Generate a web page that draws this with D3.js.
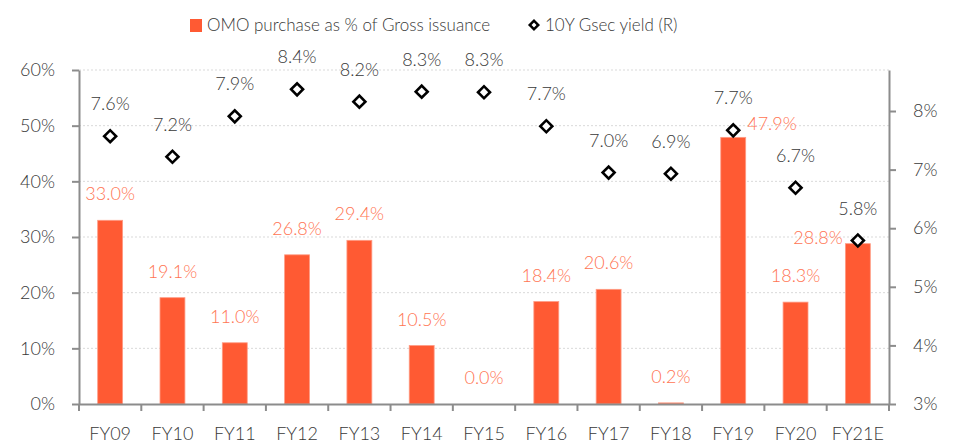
<!DOCTYPE html>
<meta charset="utf-8">
<style>
body { margin: 0; background: #fff; }
text { font-family: Lato, "Open Sans", sans-serif; font-weight: 300; }
.axis path, .axis line { stroke: #8c8c8c; stroke-width: 2px; }
.axis text { fill: #383838; font-size: 18px; }
.grid line { stroke: #d9d9d9; stroke-width: 1px; stroke-dasharray: 2,2; }
</style>
<body>
<script src="https://d3js.org/d3.v7.min.js"></script>
<script>

var width = 955,
    height = 448;

var categories = ["FY09","FY10","FY11","FY12","FY13","FY14","FY15","FY16","FY17","FY18","FY19","FY20","FY21E"];
var omoShare = [33.0, 19.1, 11.0, 26.8, 29.4, 10.5, 0.0, 18.4, 20.6, 0.2, 47.9, 18.3, 28.8];
var gsecYield = [7.57, 7.22, 7.91, 8.37, 8.16, 8.33, 8.32, 7.74, 6.95, 6.93, 7.67, 6.69, 5.79];
var yieldLabels = ["7.6%","7.2%","7.9%","8.4%","8.2%","8.3%","8.3%","7.7%","7.0%","6.9%","7.7%","6.7%","5.8%"];
var leftTicks = [0, 10, 20, 30, 40, 50, 60];
var rightTicks = [3, 4, 5, 6, 7, 8];

var margin = {top: 70, right: 66, bottom: 44, left: 79};

var svg = d3.select("body").append("svg")
    .attr("width", width)
    .attr("height", height);

var x = d3.scaleBand()
    .domain(categories)
    .range([margin.left, width - margin.right])
    .paddingInner(0.6)
    .paddingOuter(0.3);

var yL = d3.scaleLinear().domain([0, 60]).range([height - margin.bottom, margin.top]);
var yR = d3.scaleLinear().domain([3, 8.7]).range([height - margin.bottom, margin.top]);

// gridlines
svg.append("g").attr("class", "grid")
  .selectAll("line")
  .data(leftTicks.slice(1))
  .enter().append("line")
  .attr("x1", margin.left)
  .attr("x2", width - margin.right)
  .attr("y1", function(d){ return yL(d); })
  .attr("y2", function(d){ return yL(d); });

// bars
svg.selectAll(".bar")
  .data(omoShare)
  .enter().append("rect")
  .attr("class", "bar")
  .attr("x", function(d, i){ return x(categories[i]); })
  .attr("width", x.bandwidth())
  .attr("y", function(d){ return yL(d); })
  .attr("height", function(d){ return yL(0) - yL(d); })
  .attr("fill", "#ff5a33")
  .attr("stroke", "#ff9b84")
  .attr("stroke-width", 0.8);

// bar labels
svg.selectAll(".barlabel")
  .data(omoShare)
  .enter().append("text")
  .attr("class", "barlabel")
  .attr("x", function(d, i){
    var c = x(categories[i]) + x.bandwidth() / 2;
    if (categories[i] == "FY19") return c + 14;
    if (categories[i] == "FY21E") return c - 15;
    return c;
  })
  .attr("y", function(d, i){
    if (categories[i] == "FY19") return yL(d) - 7;
    if (categories[i] == "FY21E") return yL(d) + 0;
    return yL(d) - 20;
  })
  .attr("text-anchor", function(d, i){
    if (categories[i] == "FY19") return "start";
    if (categories[i] == "FY21E") return "end";
    return "middle";
  })
  .attr("fill", "#ff7452")
  .style("font-size", "18px")
  .text(function(d){ return d.toFixed(1) + "%"; });

// left axis
svg.append("g").attr("class", "axis")
  .attr("transform", "translate(" + margin.left + ",0)")
  .call(d3.axisLeft(yL).tickValues(leftTicks).tickSize(7).tickSizeOuter(0).tickPadding(17)
    .tickFormat(function(d){ return d + "%"; }));

// right axis
svg.append("g").attr("class", "axis")
  .attr("transform", "translate(" + (width - margin.right) + ",0)")
  .call(d3.axisRight(yR).tickValues(rightTicks).tickSize(7).tickSizeOuter(0).tickPadding(17)
    .tickFormat(function(d){ return d + "%"; }));

// bottom axis: labels centered, ticks at boundaries
var bottom = svg.append("g").attr("class", "axis")
  .attr("transform", "translate(0," + yL(0) + ")");
bottom.call(d3.axisBottom(x).tickSize(0).tickSizeOuter(0).tickPadding(27));
bottom.selectAll(".tick text").attr("dy", "0.5em");
bottom.selectAll(".bound")
  .data(d3.range(categories.length + 1))
  .enter().append("line")
  .attr("class", "bound")
  .attr("x1", function(i){ return margin.left + i * x.step(); })
  .attr("x2", function(i){ return margin.left + i * x.step(); })
  .attr("y1", 0)
  .attr("y2", 7);

// yield markers
var diamond = d3.symbol().type(d3.symbolSquare).size(72);
svg.selectAll(".marker")
  .data(gsecYield)
  .enter().append("path")
  .attr("class", "marker")
  .attr("d", diamond)
  .attr("transform", function(d, i){
    return "translate(" + (x(categories[i]) + x.bandwidth() / 2) + "," + yR(d) + ") rotate(45)";
  })
  .attr("fill", "#fff")
  .attr("stroke", "#000")
  .attr("stroke-width", 2.6);

svg.selectAll(".ylabel")
  .data(gsecYield)
  .enter().append("text")
  .attr("class", "ylabel")
  .attr("x", function(d, i){ return x(categories[i]) + x.bandwidth() / 2; })
  .attr("y", function(d){ return yR(d) - 26; })
  .attr("text-anchor", "middle")
  .attr("fill", "#383838")
  .style("font-size", "18px")
  .text(function(d, i){ return yieldLabels[i]; });

// legend
var legend = svg.append("g");
legend.append("rect")
  .attr("x", 190).attr("y", 19).attr("width", 12).attr("height", 13)
  .attr("fill", "#ff5a33");
legend.append("text")
  .attr("x", 207).attr("y", 31)
  .attr("fill", "#383838").style("font-size", "17px")
  .text("OMO purchase as % of Gross issuance");
legend.append("path")
  .attr("d", d3.symbol().type(d3.symbolSquare).size(36))
  .attr("transform", "translate(534,25) rotate(45)")
  .attr("fill", "#fff").attr("stroke", "#000").attr("stroke-width", 2.5);
legend.append("text")
  .attr("x", 545).attr("y", 31)
  .attr("fill", "#383838").style("font-size", "17px")
  .text("10Y Gsec yield (R)");

</script>
